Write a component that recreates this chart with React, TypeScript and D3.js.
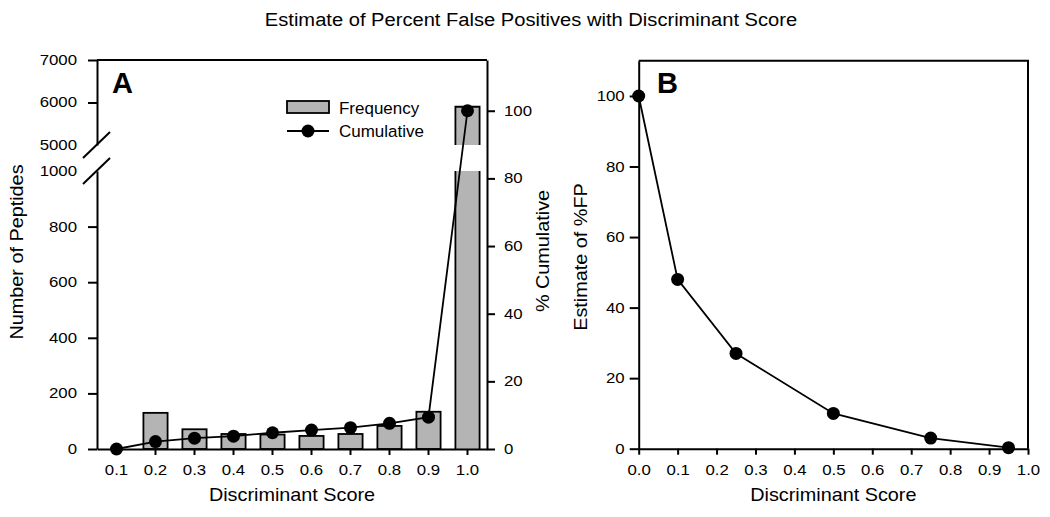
import React, { useEffect, useRef } from "react";
import * as d3 from "d3";

// Panel A: histogram of discriminant scores with cumulative %
const scores = ["0.1", "0.2", "0.3", "0.4", "0.5", "0.6", "0.7", "0.8", "0.9", "1.0"];
const frequency = [0, 130, 71, 54, 52, 47, 54, 83, 134, 5900];
const cumulative = [0, 2.2, 3.2, 3.8, 4.8, 5.6, 6.3, 7.6, 9.4, 100];

const lowerTicks = [0, 200, 400, 600, 800, 1000];
const upperTicks = [5000, 6000, 7000];
const cumulativeTicks = [0, 20, 40, 60, 80, 100];

// Panel B: estimate of %FP
const fpScores = [0, 0.1, 0.25, 0.5, 0.75, 0.95];
const fpEstimate = [100, 48, 27, 10, 3, 0.3];
const fpYTicks = [0, 20, 40, 60, 80, 100];
const fpXTicks = [0, 0.1, 0.2, 0.3, 0.4, 0.5, 0.6, 0.7, 0.8, 0.9, 1.0];

const FONT = "'Liberation Sans', Arial, Helvetica, sans-serif";
const BAR_FILL = "#b4b4b4";
const TICK_FONT = 14;
const TICK_STRETCH = 1.2;
const LABEL_FONT = 17.7;
const LABEL_STRETCH = 1.12;

const App: React.FC = () => {
    const svgRef = useRef<SVGSVGElement | null>(null);

    useEffect(() => {
        const width = 1050;
        const height = 517;
        const root = d3.select(svgRef.current);
        root.selectAll("*").remove();
        root.attr("width", width).attr("height", height);

        const svg = root.append("g");

        svg.append("rect")
            .attr("width", width)
            .attr("height", height)
            .attr("fill", "white");

        // the source figure's lettering is wider than Arial, so stretch it
        const styleAxis = (g: d3.Selection<SVGGElement, unknown, null, undefined>) => {
            g.attr("font-family", FONT).attr("font-size", TICK_FONT);
            g.selectAll("path.domain").attr("stroke", "#000").attr("stroke-width", 2);
            g.selectAll(".tick line").attr("stroke", "#000").attr("stroke-width", 2);
            g.selectAll<SVGTextElement, unknown>(".tick text").each(function () {
                const t = d3.select(this);
                const tx = +(t.attr("x") ?? 0);
                const ty = +(t.attr("y") ?? 0);
                t.attr("x", null)
                    .attr("y", null)
                    .attr("fill", "#000")
                    .attr("transform", `translate(${tx},${ty}) scale(${TICK_STRETCH},1)`);
            });
        };

        const label = (tx: number, ty: number, rot: number, txt: string) =>
            svg.append("text")
                .attr(
                    "transform",
                    `translate(${tx},${ty}) rotate(${rot}) scale(${LABEL_STRETCH},1)`
                )
                .attr("text-anchor", "middle")
                .attr("font-family", FONT)
                .attr("font-size", LABEL_FONT)
                .text(txt);

        // Title
        svg.append("text")
            .attr("transform", "translate(531,26) scale(1.06,1)")
            .attr("text-anchor", "middle")
            .attr("font-family", FONT)
            .attr("font-size", 19)
            .text("Estimate of Percent False Positives with Discriminant Score");

        // ---------------- Panel A ----------------
        const aLeft = 97;
        const aRight = 487;
        const aTop = 60;
        const aBottom = 449;

        const x = d3
            .scaleBand()
            .domain(scores)
            .range([aLeft, aRight])
            .paddingInner(0.38)
            .paddingOuter(0.19);

        const yLow = d3.scaleLinear().domain([0, 1000]).range([aBottom, 171]);
        const yHigh = d3.scaleLinear().domain([5000, 7000]).range([145, aTop]);
        const yRight = d3.scaleLinear().domain([0, 115]).range([aBottom, aTop]);

        const bars = scores
            .map((s, i) => ({ score: s, value: frequency[i] }))
            .filter((d) => d.value > 0);

        const barG = svg.append("g");
        bars.forEach((d) => {
            const x0 = x(d.score)!;
            const x1 = x0 + x.bandwidth();
            if (d.value <= 1000) {
                barG.append("rect")
                    .attr("x", x0)
                    .attr("y", yLow(d.value))
                    .attr("width", x.bandwidth())
                    .attr("height", aBottom - yLow(d.value))
                    .attr("fill", BAR_FILL)
                    .attr("stroke", "#000")
                    .attr("stroke-width", 1.8);
            } else {
                // broken bar: lower piece up to 1000, upper piece from 5000
                const lowTop = yLow(1000);
                const highBottom = yHigh(5000);
                const top = yHigh(d.value);
                barG.append("rect")
                    .attr("x", x0)
                    .attr("y", lowTop)
                    .attr("width", x.bandwidth())
                    .attr("height", aBottom - lowTop)
                    .attr("fill", BAR_FILL);
                barG.append("rect")
                    .attr("x", x0)
                    .attr("y", top)
                    .attr("width", x.bandwidth())
                    .attr("height", highBottom - top)
                    .attr("fill", BAR_FILL);
                barG.append("path")
                    .attr("d", `M${x0},${aBottom}V${lowTop}M${x1},${lowTop}V${aBottom}`)
                    .attr("fill", "none")
                    .attr("stroke", "#000")
                    .attr("stroke-width", 1.8);
                barG.append("path")
                    .attr("d", `M${x0},${highBottom}V${top}H${x1}V${highBottom}`)
                    .attr("fill", "none")
                    .attr("stroke", "#000")
                    .attr("stroke-width", 1.8);
            }
        });

        // top border
        svg.append("line")
            .attr("x1", aLeft)
            .attr("x2", aRight)
            .attr("y1", aTop)
            .attr("y2", aTop)
            .attr("stroke", "#000")
            .attr("stroke-width", 2);

        // bottom axis
        const xAxisA = svg
            .append("g")
            .attr("transform", `translate(0,${aBottom})`)
            .call(d3.axisBottom(x).tickSize(6).tickSizeOuter(0).tickPadding(10));
        styleAxis(xAxisA);

        // left axis, lower segment
        const yLowAxis = svg
            .append("g")
            .attr("transform", `translate(${aLeft},0)`)
            .call(
                d3
                    .axisLeft(yLow)
                    .tickValues(lowerTicks)
                    .tickFormat(d3.format("d"))
                    .tickSize(9)
                    .tickSizeOuter(0)
                    .tickPadding(11)
            );
        styleAxis(yLowAxis);
        yLowAxis
            .selectAll<SVGGElement, number>(".tick")
            .filter((d) => d === 1000)
            .select("line")
            .remove();

        // left axis, upper segment
        const yHighAxis = svg
            .append("g")
            .attr("transform", `translate(${aLeft},0)`)
            .call(
                d3
                    .axisLeft(yHigh)
                    .tickValues(upperTicks)
                    .tickFormat(d3.format("d"))
                    .tickSize(9)
                    .tickSizeOuter(0)
                    .tickPadding(11)
            );
        styleAxis(yHighAxis);
        yHighAxis
            .selectAll<SVGGElement, number>(".tick")
            .filter((d) => d === 5000)
            .select("line")
            .remove();

        // axis break marks
        [yHigh(5000), yLow(1000)].forEach((yy) => {
            svg.append("line")
                .attr("x1", aLeft - 14)
                .attr("y1", yy + 13)
                .attr("x2", aLeft + 13)
                .attr("y2", yy - 13)
                .attr("stroke", "#000")
                .attr("stroke-width", 2);
        });

        // right axis
        const yRightAxis = svg
            .append("g")
            .attr("transform", `translate(${aRight},0)`)
            .call(
                d3
                    .axisRight(yRight)
                    .tickValues(cumulativeTicks)
                    .tickSize(8)
                    .tickSizeOuter(0)
                    .tickPadding(9)
            );
        styleAxis(yRightAxis);

        // cumulative line + dots
        const cumPts = scores.map((s, i) => ({ score: s, value: cumulative[i] }));
        const cumLine = d3
            .line<{ score: string; value: number }>()
            .x((d) => x(d.score)! + x.bandwidth() / 2)
            .y((d) => yRight(d.value));
        svg.append("path")
            .datum(cumPts)
            .attr("d", cumLine)
            .attr("fill", "none")
            .attr("stroke", "#000")
            .attr("stroke-width", 1.8);
        svg.append("g")
            .selectAll("circle")
            .data(cumPts)
            .enter()
            .append("circle")
            .attr("cx", (d) => x(d.score)! + x.bandwidth() / 2)
            .attr("cy", (d) => yRight(d.value))
            .attr("r", 6.5)
            .attr("fill", "#000");

        // legend
        const legend = svg.append("g").attr("font-family", FONT).attr("font-size", 16.5);
        legend.append("rect")
            .attr("x", 287)
            .attr("y", 101)
            .attr("width", 42)
            .attr("height", 12)
            .attr("fill", BAR_FILL)
            .attr("stroke", "#000")
            .attr("stroke-width", 1.8);
        legend.append("text")
            .attr("transform", "translate(339,114) scale(1.03,1)")
            .text("Frequency");
        legend.append("line")
            .attr("x1", 287)
            .attr("x2", 329)
            .attr("y1", 131)
            .attr("y2", 131)
            .attr("stroke", "#000")
            .attr("stroke-width", 1.8);
        legend.append("circle").attr("cx", 308).attr("cy", 131).attr("r", 6.5).attr("fill", "#000");
        legend.append("text")
            .attr("transform", "translate(339,137) scale(1.03,1)")
            .text("Cumulative");

        // panel A labels
        svg.append("text")
            .attr("x", 112)
            .attr("y", 93)
            .attr("font-family", FONT)
            .attr("font-weight", "bold")
            .attr("font-size", 29)
            .text("A");
        label(23, 252, -90, "Number of Peptides");
        label(549, 251, -90, "% Cumulative");
        label((aLeft + aRight) / 2, 501, 0, "Discriminant Score");

        // ---------------- Panel B ----------------
        const bLeft = 638.7;
        const bRight = 1028;
        const bTop = 60.7;
        const bBottom = 448.7;

        const xb = d3.scaleLinear().domain([0, 1]).range([bLeft, bRight]);
        const yb = d3.scaleLinear().domain([0, 110]).range([bBottom, bTop]);

        svg.append("path")
            .attr("d", `M${bLeft},${bTop}H${bRight}V${bBottom}`)
            .attr("fill", "none")
            .attr("stroke", "#000")
            .attr("stroke-width", 2);

        const xAxisB = svg
            .append("g")
            .attr("transform", `translate(0,${bBottom})`)
            .call(
                d3
                    .axisBottom(xb)
                    .tickValues(fpXTicks)
                    .tickFormat(d3.format(".1f"))
                    .tickSize(6)
                    .tickSizeOuter(0)
                    .tickPadding(10)
            );
        styleAxis(xAxisB);

        const yAxisB = svg
            .append("g")
            .attr("transform", `translate(${bLeft},0)`)
            .call(d3.axisLeft(yb).tickValues(fpYTicks).tickSize(9).tickSizeOuter(0).tickPadding(5));
        styleAxis(yAxisB);

        const fpPts = fpScores.map((s, i) => ({ s, v: fpEstimate[i] }));
        const fpLine = d3
            .line<{ s: number; v: number }>()
            .x((d) => xb(d.s))
            .y((d) => yb(d.v));
        svg.append("path")
            .datum(fpPts)
            .attr("d", fpLine)
            .attr("fill", "none")
            .attr("stroke", "#000")
            .attr("stroke-width", 1.8);
        svg.append("g")
            .selectAll("circle")
            .data(fpPts)
            .enter()
            .append("circle")
            .attr("cx", (d) => xb(d.s))
            .attr("cy", (d) => yb(d.v))
            .attr("r", 6.5)
            .attr("fill", "#000");

        svg.append("text")
            .attr("x", 657)
            .attr("y", 93)
            .attr("font-family", FONT)
            .attr("font-weight", "bold")
            .attr("font-size", 29)
            .text("B");
        label(587, 257, -90, "Estimate of %FP");
        label((bLeft + bRight) / 2, 501, 0, "Discriminant Score");
    }, []);

    return (
        <div style={{ position: "absolute", left: 0, top: 0 }}>
            <svg ref={svgRef} style={{ display: "block" }} />
        </div>
    );
};

export default App;
